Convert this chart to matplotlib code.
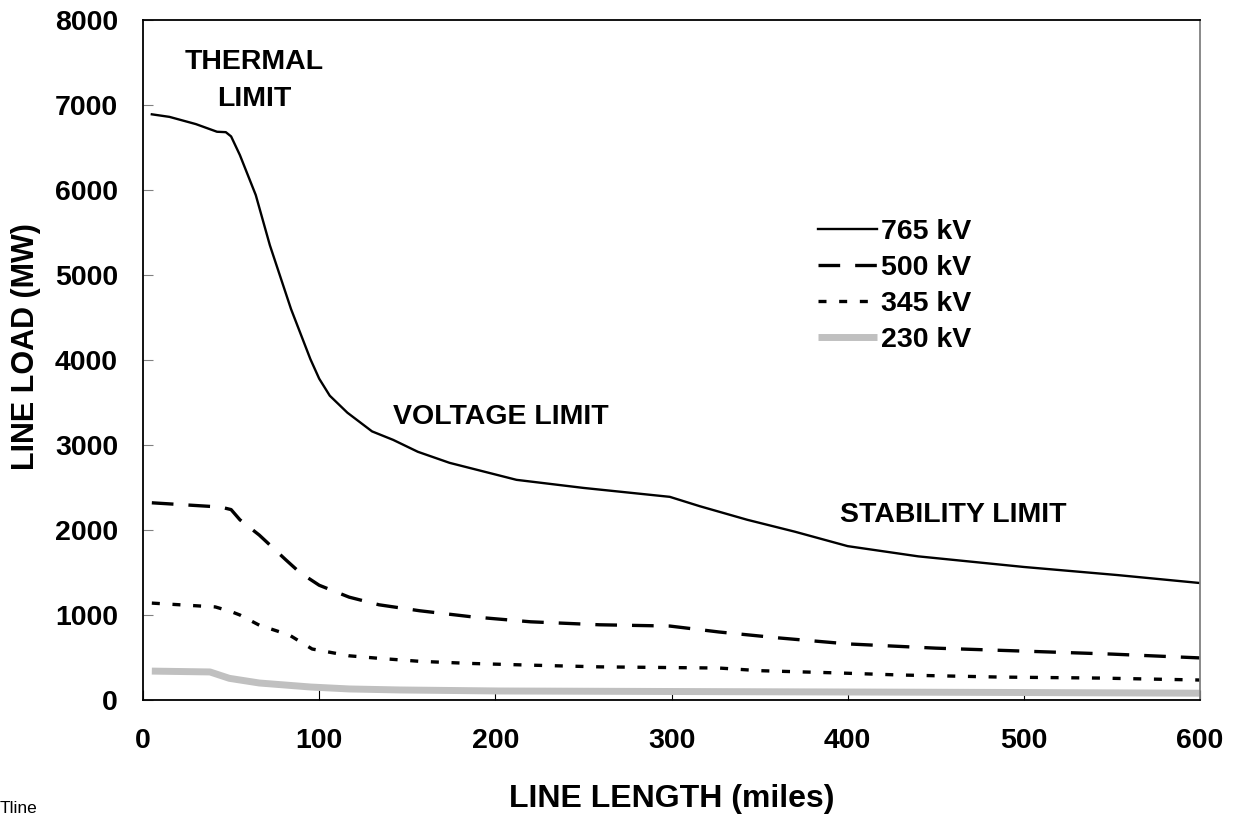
import matplotlib
matplotlib.use("Agg")
import matplotlib.pyplot as plt

### line loadability curves
miles_765 = [5, 15, 30, 42, 47, 50, 55, 64, 72, 84, 95, 100, 106, 116, 130, 142, 156, 174,
             212, 250, 299, 316, 343, 370, 400, 440, 500, 553, 600]
load_765 = [6890, 6860, 6775, 6685, 6680, 6630, 6410, 5940, 5350, 4600, 4010, 3780, 3580,
            3380, 3160, 3060, 2920, 2790, 2590, 2495, 2390, 2280, 2120, 1980, 1810, 1690,
            1565, 1470, 1376]

miles_500 = [5, 44, 50, 55, 66, 81, 89, 100, 117, 134, 157, 186, 220, 259, 299, 327, 361,
             400, 450, 500, 550, 600]
load_500 = [2320, 2270, 2240, 2120, 1940, 1650, 1500, 1350, 1210, 1120, 1050, 980, 920,
            885, 870, 800, 730, 660, 610, 575, 540, 495]

miles_345 = [5, 41, 50, 55, 66, 83, 96, 117, 134, 157, 186, 220, 259, 327, 350, 395, 430,
             486, 543, 600]
load_345 = [1140, 1095, 1040, 1000, 880, 765, 600, 520, 490, 455, 430, 410, 390, 376, 345,
            318, 294, 270, 258, 235]

miles_230 = [5, 38, 49, 66, 95, 117, 146, 203, 300, 400, 500, 600]
load_230 = [340, 330, 255, 200, 153, 130, 118, 106, 100, 94, 88, 80]

x_ticks = [0, 100, 200, 300, 400, 500, 600]
y_ticks = [0, 1000, 2000, 3000, 4000, 5000, 6000, 7000, 8000]

plt.rcParams['font.family'] = ['Liberation Sans', 'DejaVu Sans']
plt.rcParams['font.weight'] = 'bold'

fig = plt.figure(figsize=(12.34, 8.15), dpi=100)
ax = fig.add_axes([0.1159, 0.1411, 0.8566, 0.8344])

ax.plot(miles_765, load_765, color='black', lw=1.7, label='765 kV')
ax.plot(miles_500, load_500, color='black', lw=2.4, dashes=(6.5, 4.5), label='500 kV')
ax.plot(miles_345, load_345, color='black', lw=2.4, dashes=(2.4, 3.8), label='345 kV')
ax.plot(miles_230, load_230, color='#c0c0c0', lw=5, solid_capstyle='butt', label='230 kV')

ax.set_xlim(0, 600)
ax.set_ylim(0, 8000)
ax.set_xticks(x_ticks)
ax.set_yticks(y_ticks)
ax.tick_params(axis='both', labelsize=20.5, direction='in')
ax.tick_params(axis='x', length=7, color='black', pad=20)
ax.tick_params(axis='y', length=7, color='#808080', pad=18)
for lab in ax.get_xticklabels() + ax.get_yticklabels():
    lab.set_fontweight('bold')

for side in ['left', 'bottom', 'top']:
    ax.spines[side].set_color('black')
    ax.spines[side].set_linewidth(1.3)
ax.spines['right'].set_color('#808080')
ax.spines['right'].set_linewidth(1.3)

### axis titles sit very low / far left in the original
ax.set_xlabel('LINE LENGTH (miles)', fontsize=23, fontweight='bold')
ax.xaxis.label.set_va('baseline')
ax.xaxis.set_label_coords(0.5, -0.157)
ax.set_ylabel('LINE LOAD (MW)', fontsize=22, fontweight='bold')
ax.yaxis.label.set_va('baseline')
ax.yaxis.set_label_coords(-0.103, 0.52)

### region annotations
ax.text(63, 7285, 'THERMAL\nLIMIT', ha='center', va='center', fontsize=20.5,
        fontweight='bold', linespacing=1.55)
ax.text(203, 3330, 'VOLTAGE LIMIT', ha='center', va='center', fontsize=20.5, fontweight='bold')
ax.text(460, 2176, 'STABILITY LIMIT', ha='center', va='center', fontsize=20.5, fontweight='bold')

ax.legend(loc='upper left', bbox_to_anchor=(0.639, 0.708), frameon=False, fontsize=20.5,
          handlelength=2.05, handletextpad=0.15, labelspacing=0.36, borderpad=0,
          borderaxespad=0)

fig.text(0.0, 0.003, 'Tline', fontsize=12.5, fontweight='normal', ha='left', va='baseline')

fig.savefig('out.png', dpi=100)
